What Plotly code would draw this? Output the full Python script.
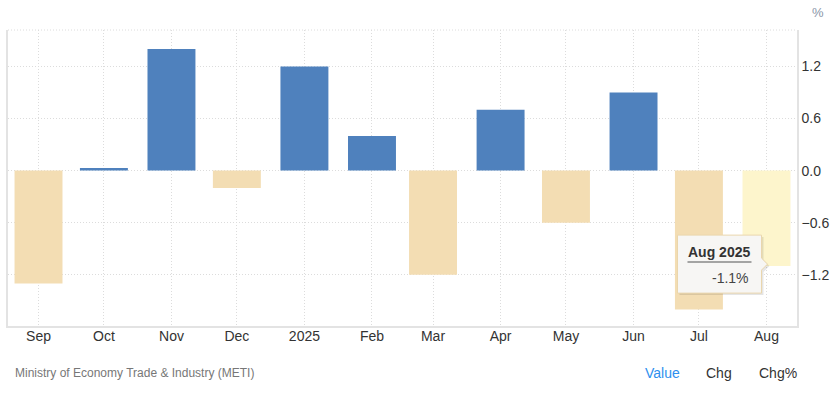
import plotly.graph_objects as go

# ---- data ----
dates = ["2024-09-01", "2024-10-01", "2024-11-01", "2024-12-01", "2025-01-01", "2025-02-01",
         "2025-03-01", "2025-04-01", "2025-05-01", "2025-06-01", "2025-07-01", "2025-08-01"]
tick_labels = ["Sep", "Oct", "Nov", "Dec", "2025", "Feb", "Mar", "Apr", "May", "Jun", "Jul", "Aug"]
values = [-1.3, 0.03, 1.4, -0.2, 1.2, 0.4, -1.2, 0.7, -0.6, 0.9, -1.6, -1.1]
y_ticks = [-1.2, -0.6, 0.0, 0.6, 1.2]

POS = "#4f81bd"
NEG = "#f3ddb3"
HIGHLIGHT = "#fdf5cc"
colors = [POS if v >= 0 else NEG for v in values]
colors[-1] = HIGHLIGHT

FONT = "Liberation Sans, Arial, sans-serif"
DAY_MS = 86400000
GRID = "#dcdcdc"
GRID_DASH = "1px,2px"

fig = go.Figure()
fig.add_trace(go.Bar(
    x=dates, y=values, marker=dict(color=colors, line=dict(width=0)),
    width=[22 * DAY_MS] * len(values), hoverinfo="skip",
))

fig.update_layout(
    width=833, height=396,
    margin=dict(l=8, r=36, t=30, b=70, autoexpand=False),
    paper_bgcolor="white", plot_bgcolor="white",
    showlegend=False, hovermode=False,
    font=dict(family=FONT, size=14, color="#333333"),
    xaxis=dict(
        type="date", range=["2024-08-18", "2025-08-15"], automargin=False,
        tickmode="array", tickvals=dates, ticktext=tick_labels,
        showgrid=True, gridcolor=GRID, griddash=GRID_DASH, gridwidth=1,
        showline=True, linecolor="#e3e3e3", linewidth=1.5,
        ticks="", tickfont=dict(size=14, color="#333333"), ticklabelstandoff=-4,
        fixedrange=True,
    ),
    yaxis=dict(
        side="right", range=[-1.79, 1.62], automargin=False,
        tickmode="array", tickvals=y_ticks, tickformat=".1f",
        showgrid=True, gridcolor=GRID, griddash=GRID_DASH, gridwidth=1,
        zeroline=False,
        showline=True, mirror=True, linecolor="#e3e3e3", linewidth=1.5,
        ticks="", tickfont=dict(size=14, color="#333333"),
        fixedrange=True,
    ),
)

# top dotted border
fig.add_shape(type="line", xref="paper", yref="paper", x0=0, x1=1, y0=1, y1=1,
              line=dict(color=GRID, width=1, dash=GRID_DASH))

# ---- tooltip tied to the last data point ----
tip_x, tip_y = dates[-1], values[-1]
box = "M -89,31 L -5,31 L -5,8 L 1,2 L -5,-4 L -5,-27 L -89,-27 Z"
shadow = "M -87,29 L -3,29 L -3,6 L 3,0 L -3,-6 L -3,-29 L -87,-29 Z"
fig.add_shape(type="path", xsizemode="pixel", ysizemode="pixel", xanchor=tip_x, yanchor=tip_y,
              path=shadow, fillcolor="rgba(0,0,0,0.10)", line=dict(width=0))
fig.add_shape(type="path", xsizemode="pixel", ysizemode="pixel", xanchor=tip_x, yanchor=tip_y,
              path=box, fillcolor="#f7f6f4", line=dict(color="#ead6ad", width=1))
fig.add_shape(type="line", xsizemode="pixel", ysizemode="pixel", xanchor=tip_x, yanchor=tip_y,
              x0=-79, x1=-15, y0=4, y1=4, line=dict(color="#888888", width=1.5))
fig.add_annotation(x=tip_x, y=tip_y, xref="x", yref="y", text="<b>Aug 2025</b>",
                   showarrow=False, xanchor="right", yanchor="middle", xshift=-14, yshift=14,
                   font=dict(size=14, color="#333333"))
fig.add_annotation(x=tip_x, y=tip_y, xref="x", yref="y", text=f"{tip_y:.1f}%",
                   showarrow=False, xanchor="right", yanchor="middle", xshift=-15, yshift=-12,
                   font=dict(size=14, color="#444444"))

# ---- texts ----
fig.add_annotation(xref="paper", yref="paper", x=1.0 + 21 / 789, y=1.0 + 18 / 296, text="%",
                   showarrow=False, xanchor="center", yanchor="middle",
                   font=dict(size=13, color="#8a96a8"))
fig.add_annotation(xref="paper", yref="paper", x=5 / 789, y=-47 / 296,
                   text="Ministry of Economy Trade & Industry (METI)",
                   showarrow=False, xanchor="left", yanchor="middle",
                   font=dict(size=12, color="#777777"))
for label, cx, col in [("Value", 662, "#2e8fee"), ("Chg", 719, "#333333"), ("Chg%", 778, "#333333")]:
    fig.add_annotation(xref="paper", yref="paper", x=(cx - 8) / 789, y=-47 / 296, text=label,
                       showarrow=False, xanchor="center", yanchor="middle",
                       font=dict(size=14, color=col))

fig.write_html("out.html", config={"displayModeBar": False},
               post_script="document.body.style.margin='0';document.body.style.overflow='hidden';")
